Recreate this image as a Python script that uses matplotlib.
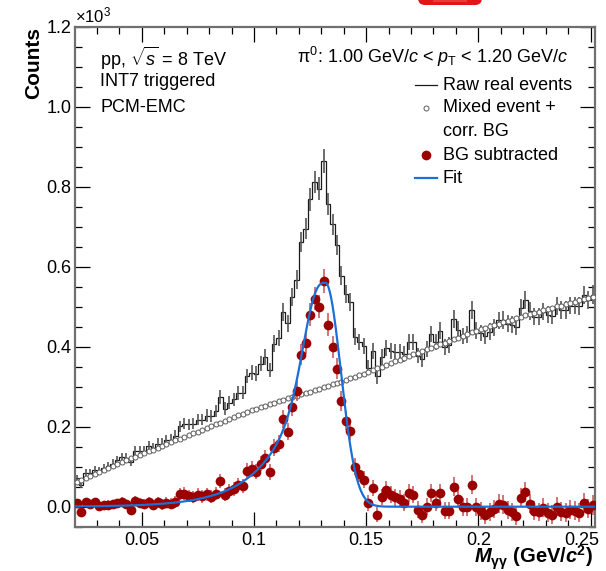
import numpy as np
import matplotlib
matplotlib.use("Agg")
import matplotlib.pyplot as plt
from matplotlib.patches import FancyBboxPatch, Rectangle
from matplotlib.lines import Line2D
from matplotlib.transforms import IdentityTransform

plt.rcParams['font.family'] = ['Liberation Sans', 'DejaVu Sans']
plt.rcParams['mathtext.fontset'] = 'custom'
plt.rcParams['mathtext.rm'] = 'Liberation Sans'
plt.rcParams['mathtext.sf'] = 'Liberation Sans'
plt.rcParams['mathtext.it'] = 'Liberation Sans:italic'
plt.rcParams['mathtext.bf'] = 'Liberation Sans:bold'
plt.rcParams['mathtext.bfit'] = 'Liberation Sans:bold:italic'

# ---- binning: 2 MeV/c^2 bins from 0.020 to 0.252 GeV/c^2 ----
bin_edges = np.round(np.arange(0.020, 0.2521, 0.002), 4)
bin_centers = 0.5 * (bin_edges[:-1] + bin_edges[1:])

# ---- counts (x10^3) per bin ----
raw_real = [
    0.072, 0.055, 0.084, 0.085, 0.093, 0.089, 0.096, 0.102, 0.108, 0.116,
    0.124, 0.123, 0.112, 0.139, 0.140, 0.140, 0.151, 0.147, 0.158, 0.158,
    0.166, 0.168, 0.178, 0.201, 0.208, 0.206, 0.208, 0.218, 0.218, 0.228,
    0.226, 0.239, 0.274, 0.245, 0.260, 0.269, 0.284, 0.285, 0.327, 0.335,
    0.333, 0.357, 0.374, 0.342, 0.408, 0.422, 0.487, 0.459, 0.524, 0.568,
    0.662, 0.695, 0.768, 0.812, 0.795, 0.864, 0.757, 0.706, 0.654, 0.578,
    0.532, 0.511, 0.425, 0.412, 0.401, 0.347, 0.389, 0.326, 0.374, 0.397,
    0.389, 0.388, 0.388, 0.382, 0.411, 0.411, 0.378, 0.369, 0.394, 0.432,
    0.412, 0.440, 0.400, 0.405, 0.469, 0.443, 0.427, 0.431, 0.491, 0.440,
    0.434, 0.427, 0.438, 0.449, 0.466, 0.467, 0.457, 0.455, 0.450, 0.497,
    0.516, 0.490, 0.475, 0.475, 0.488, 0.480, 0.478, 0.501, 0.491, 0.491,
    0.503, 0.503, 0.501, 0.529, 0.517, 0.530,
]

mixed_bg = [
    0.062, 0.067, 0.072, 0.077, 0.082, 0.087, 0.092, 0.097, 0.102, 0.107,
    0.112, 0.117, 0.121, 0.125, 0.130, 0.134, 0.139, 0.143, 0.147, 0.152,
    0.156, 0.161, 0.166, 0.170, 0.175, 0.179, 0.184, 0.188, 0.192, 0.197,
    0.201, 0.206, 0.210, 0.215, 0.220, 0.224, 0.229, 0.233, 0.237, 0.241,
    0.245, 0.249, 0.252, 0.256, 0.260, 0.264, 0.267, 0.271, 0.274, 0.278,
    0.282, 0.285, 0.288, 0.292, 0.295, 0.299, 0.302, 0.306, 0.309, 0.313,
    0.317, 0.321, 0.325, 0.329, 0.333, 0.337, 0.342, 0.346, 0.350, 0.355,
    0.359, 0.364, 0.368, 0.372, 0.377, 0.381, 0.385, 0.389, 0.394, 0.398,
    0.402, 0.406, 0.410, 0.415, 0.419, 0.423, 0.427, 0.431, 0.436, 0.440,
    0.444, 0.447, 0.451, 0.454, 0.458, 0.462, 0.465, 0.468, 0.472, 0.475,
    0.479, 0.482, 0.485, 0.488, 0.491, 0.495, 0.498, 0.501, 0.503, 0.506,
    0.510, 0.513, 0.516, 0.519, 0.522, 0.525,
]

bg_subtracted = [
    0.010, -0.012, 0.012, 0.008, 0.011, 0.002, 0.004, 0.005, 0.006, 0.009,
    0.012, 0.006, -0.009, 0.014, 0.010, 0.006, 0.012, 0.004, 0.011, 0.006,
    0.010, 0.007, 0.012, 0.031, 0.033, 0.027, 0.024, 0.030, 0.026, 0.031,
    0.025, 0.033, 0.064, 0.030, 0.040, 0.045, 0.055, 0.052, 0.090, 0.094,
    0.088, 0.108, 0.122, 0.086, 0.148, 0.158, 0.220, 0.188, 0.250, 0.290,
    0.380, 0.410, 0.480, 0.520, 0.500, 0.565, 0.455, 0.400, 0.345, 0.265,
    0.215, 0.190, 0.100, 0.083, 0.068, 0.010, 0.047, -0.020, 0.024, 0.042,
    0.030, 0.024, 0.020, 0.010, 0.034, 0.030, -0.007, -0.020, 0.000, 0.034,
    0.010, 0.034, -0.010, -0.010, 0.050, 0.020, 0.000, 0.000, 0.055, 0.000,
    -0.010, -0.020, -0.013, -0.005, 0.008, 0.005, -0.008, -0.013, -0.022, 0.022,
    0.037, 0.008, -0.010, -0.013, -0.003, -0.015, -0.020, 0.000, -0.012, -0.015,
    -0.007, -0.010, -0.015, 0.010, -0.005, 0.005,
]

# ---- peak fit parameters (Gaussian core with low-mass exponential tail) ----
fit_amplitude = 0.56
fit_mass = 0.1318
fit_sigma = 0.0069
fit_lambda = 0.0168

x_tick_values = [0.05, 0.10, 0.15, 0.20, 0.25]
x_tick_labels = ['0.05', '0.1', '0.15', '0.2', '0.25']
y_tick_values = [0.0, 0.2, 0.4, 0.6, 0.8, 1.0, 1.2]
y_tick_labels = ['0.0', '0.2', '0.4', '0.6', '0.8', '1.0', '1.2']

raw_real = np.array(raw_real)
mixed_bg = np.array(mixed_bg)
bg_subtracted = np.array(bg_subtracted)

# Poisson uncertainties on the counts
raw_err = np.sqrt(raw_real * 1000.0) / 1000.0
sub_err = np.sqrt((raw_real + 0.15 * mixed_bg) * 1000.0) / 1000.0


def peak_fit(m):
    gauss = np.exp(-0.5 * ((m - fit_mass) / fit_sigma) ** 2)
    tail = np.where(m < fit_mass,
                    np.exp((m - fit_mass) / fit_lambda) * (1.0 - gauss), 0.0)
    return fit_amplitude * (gauss + tail)


W, H = 606, 571
fig = plt.figure(figsize=(W / 100, H / 100), dpi=100)


def fx(p):
    return p / W


def fy(p):
    return 1.0 - p / H


ax = fig.add_axes([fx(74.5), fy(526.7), (595.0 - 74.5) / W, (526.7 - 26.7) / H])

RAW_C = '#1a1a1a'
RAW_E = '#555555'
MIX_C = '#5a5a5a'
SUB_C = '#9a0000'
SUB_E = '#c85050'
FIT_C = '#1a70d6'
SUB_MS = 7.0
MIX_MS = 3.6

# raw real events: step histogram with error bars
ax.stairs(raw_real, bin_edges, baseline=None, color=RAW_C, lw=0.9, zorder=2)
ax.errorbar(bin_centers, raw_real, yerr=raw_err, fmt='none', ecolor=RAW_E,
            elinewidth=1.2, capsize=0, zorder=2)

# mixed event + correlated background
ax.plot(bin_centers, mixed_bg, 'o', mfc='white', mec=MIX_C, ms=MIX_MS, mew=0.7,
        zorder=3)

# background subtracted signal
ax.errorbar(bin_centers, bg_subtracted, yerr=sub_err, fmt='o', color=SUB_C,
            ecolor=SUB_E, ms=SUB_MS, mew=0, elinewidth=1.1, capsize=0, zorder=4)

# fit
m_fine = np.linspace(0.020, 0.252, 800)
ax.plot(m_fine, peak_fit(m_fine), color=FIT_C, lw=1.6, zorder=5)

ax.set_xlim(0.020, 0.252)
ax.set_ylim(-0.05, 1.2)

# last x label is drawn separately, nudged inside the canvas
ax.set_xticks(x_tick_values)
ax.set_xticklabels(x_tick_labels[:-1] + [''])
ax.set_xticks(np.arange(0.03, 0.252, 0.01), minor=True)
ax.set_yticks(y_tick_values)
ax.set_yticklabels(y_tick_labels)
ax.set_yticks(np.arange(-0.05, 1.201, 0.05), minor=True)

ax.tick_params(axis='both', which='both', direction='in', top=True, right=True,
               color='black', labelsize=13)
ax.tick_params(axis='both', which='major', length=10.5, width=0.9)
ax.tick_params(axis='both', which='minor', length=5.2, width=0.9)
ax.tick_params(axis='y', which='major', pad=2)
ax.tick_params(axis='x', which='major', pad=4)
for sp in ax.spines.values():
    sp.set_color('#707070')
    sp.set_linewidth(1.6)

fig.text(fx(582), fy(532.3), x_tick_labels[-1], ha='center', va='top',
         fontsize=13)

# axis titles
fig.text(fx(34), fy(27), 'Counts', rotation=90, ha='center', va='top',
         fontsize=15, fontweight='bold')
fig.text(fx(593), fy(563.5),
         r'$\mathbfit{M}_{\mathbf{\gamma\gamma}}\ \mathbf{(GeV/}\mathbfit{c}^{\mathbf{2}}\mathbf{)}$',
         ha='right', va='baseline', fontsize=14.5)
fig.text(fx(75), fy(22), r'$\times$10$^{3}$', ha='left', va='baseline',
         fontsize=12)

# annotation text
fig.text(fx(100), fy(58), r'pp, $\sqrt{s}$ = 8 TeV', ha='left', va='center',
         fontsize=13)
fig.text(fx(100), fy(82), 'INT7 triggered', ha='left', va='center', fontsize=13)
fig.text(fx(100), fy(107), 'PCM-EMC', ha='left', va='center', fontsize=13)
fig.text(fx(568), fy(57),
         r'π$^{0}$: 1.00 GeV/$c$ < $p_{\mathrm{T}}$ < 1.20 GeV/$c$',
         ha='right', va='center', fontsize=13)

# legend
leg_x0, leg_x1, leg_tx = 415, 437, 443
fig.add_artist(Line2D([fx(leg_x0), fx(leg_x1)], [fy(85), fy(85)],
                      color=RAW_C, lw=0.9))
fig.text(fx(leg_tx), fy(85), 'Raw real events', ha='left', va='center', fontsize=13)
fig.add_artist(Line2D([fx(426)], [fy(108)], marker='o', mfc='white', mec=MIX_C,
                      ms=MIX_MS, mew=0.7, lw=0))
fig.text(fx(leg_tx), fy(108), 'Mixed event +', ha='left', va='center', fontsize=13)
fig.text(fx(leg_tx), fy(132), 'corr. BG', ha='left', va='center', fontsize=13)
fig.add_artist(Line2D([fx(426)], [fy(155)], marker='o', color=SUB_C, ms=SUB_MS,
                      mew=0, lw=0))
fig.text(fx(leg_tx), fy(155), 'BG subtracted', ha='left', va='center', fontsize=13)
fig.add_artist(Line2D([fx(leg_x0), fx(leg_x1)], [fy(178), fy(178)],
                      color=FIT_C, lw=1.6))
fig.text(fx(leg_tx), fy(178), 'Fit', ha='left', va='center', fontsize=13)

# red badge peeking in at the top edge
badge = FancyBboxPatch((418, H - 5), 64, 30,
                       boxstyle='round,pad=0,rounding_size=7',
                       transform=IdentityTransform(), facecolor='#e2141c',
                       edgecolor='none', zorder=10)
fig.patches.append(badge)
inner = Rectangle((433, H - 2), 34, 10, transform=IdentityTransform(),
                  facecolor='#ea3a3f', edgecolor='none', zorder=11)
fig.patches.append(inner)

fig.savefig('out.png', dpi=100)
